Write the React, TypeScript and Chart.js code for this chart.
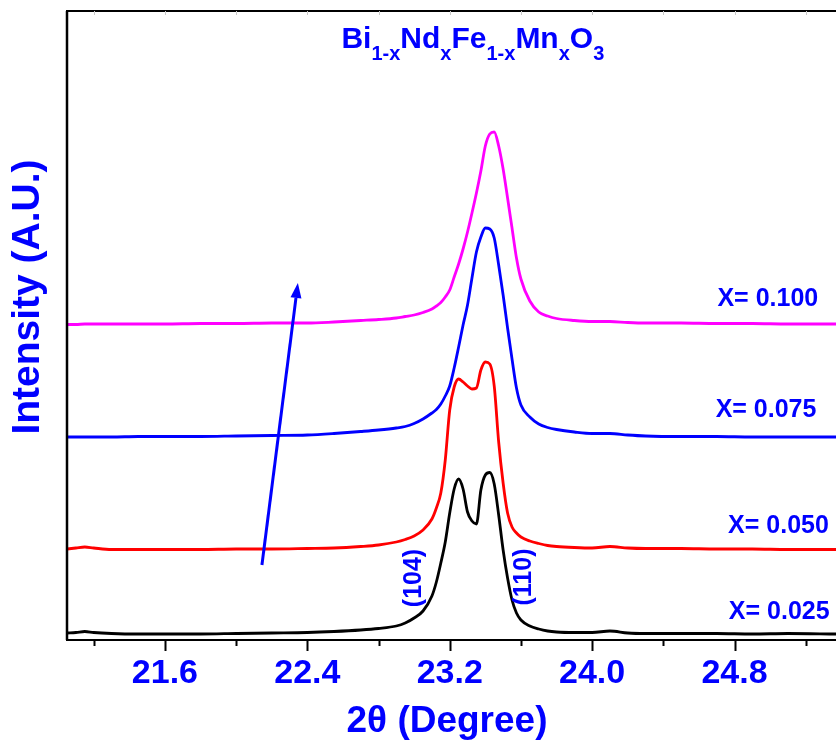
import { useEffect, useRef } from 'react';
import { Chart, registerables } from 'chart.js';

Chart.register(...registerables);

// 2θ sampling (degrees), shared by all four patterns
const twoTheta = [
  21.05, 21.1, 21.15, 21.2, 21.3, 21.45, 21.6, 21.8, 22.0, 22.2, 22.4, 22.55, 22.7, 22.8,
  22.9, 22.95, 23.0, 23.05, 23.1, 23.125, 23.15, 23.175, 23.2, 23.225, 23.25, 23.275, 23.3,
  23.325, 23.35, 23.375, 23.4, 23.425, 23.45, 23.475, 23.5, 23.525, 23.55, 23.575, 23.6,
  23.65, 23.7, 23.75, 23.8, 23.9, 24.0, 24.1, 24.2, 24.3, 24.5, 24.7, 24.9, 25.1, 25.37,
];

// Intensities (a.u.) of each composition, before vertical stacking
const intensityX025 = [
  7, 7.5, 8.5, 7.5, 6.5, 6, 6, 6, 6.5, 7, 7.5, 8.5, 10, 11.5, 14, 17, 22, 29, 44, 58, 77, 98,
  127, 151, 161, 151, 128, 119, 116, 150, 165, 167.5, 156, 125, 90, 62, 40, 27, 20, 14, 11, 9,
  8, 7.5, 7.5, 9, 7, 6.5, 6.5, 6.5, 6, 6.5, 6,
];
const intensityX050 = [
  6, 7, 8, 7, 5.5, 5.5, 5.5, 5.5, 6, 6, 6.5, 7, 8.5, 10, 13, 15.5, 19, 25, 36, 47, 62, 95,
  145, 168, 176, 173, 169, 166, 167, 185, 193, 191, 169, 113, 72, 42, 28, 22, 18, 14, 11.5, 9.5,
  8.5, 7.5, 7, 8.5, 7, 6.5, 6.5, 6, 6, 5.5, 5.5,
];
const intensityX075 = [
  6, 6, 6, 6, 6, 6.5, 6.5, 6.5, 7, 7.5, 8, 9.5, 11.5, 13, 15, 16.5, 19.5, 24, 30, 33.5, 39, 47,
  57, 75, 96, 118, 138, 165, 191, 206, 215, 214, 205, 178, 148, 115, 84, 55, 38, 26, 19, 15.5,
  13.5, 11, 9.5, 9.5, 8, 7, 6.5, 6.5, 6, 6, 6,
];
const intensityX100 = [
  5.5, 5.5, 6, 6, 6, 6, 6, 6.5, 6.5, 7, 7, 8, 9.5, 10.5, 12, 13.5, 15, 17.5, 21, 24, 27.5, 33,
  40, 53, 66, 81, 98, 117, 137, 159, 184, 196, 198, 184, 161, 132, 102, 72, 51, 29, 18, 14,
  11.5, 9.5, 8.5, 8.5, 7.5, 7, 7, 6.5, 6.5, 6, 6,
];

const patterns = [intensityX025, intensityX050, intensityX075, intensityX100];
const compositions = ['X= 0.025', 'X= 0.050', 'X= 0.075', 'X= 0.100'];
const stackOffsets = [0, 85, 197, 310];
const lineColors = ['#000000', '#ff0000', '#0000ff', '#ff00ff'];

// axis ticks (degrees)
const majorTicks = [21.6, 22.4, 23.2, 24.0, 24.8];
const minorTicks = [21.2, 22.0, 22.8, 23.6, 24.4, 25.2];

// annotations, in data coordinates
const compositionLabelAnchors = [
  { x: 25.334, y: 28 },
  { x: 25.33, y: 114 },
  { x: 25.26, y: 230 },
  { x: 25.27, y: 341 },
];
const peakLabels = [
  { text: '(104)', x: 23.0, y: 62 },
  { text: '(110)', x: 23.62, y: 63 },
];
const trendArrow = { from: { x: 22.145, y: 75 }, to: { x: 22.347, y: 357 } };
const formulaCenter = { x: 23.33, y: 592 };
const formulaParts: [string, boolean][] = [
  ['Bi', false], ['1-x', true], ['Nd', false], ['x', true], ['Fe', false], ['1-x', true],
  ['Mn', false], ['x', true], ['O', false], ['3', true],
];

const FONT = "'Liberation Sans', Arial, Helvetica, sans-serif";
const TEXT_BLUE = '#0000ff';

const decorations = {
  id: 'decorations',
  afterDraw(chart: any) {
    const { ctx, chartArea: a, scales } = chart;
    const xs = scales.x;
    const ys = scales.y;
    ctx.save();

    // frame: left, top, bottom
    ctx.strokeStyle = '#000';
    ctx.lineWidth = 2.5;
    ctx.beginPath();
    ctx.moveTo(a.left, a.top);
    ctx.lineTo(a.left, a.bottom);
    ctx.stroke();
    ctx.lineWidth = 2;
    ctx.beginPath();
    ctx.moveTo(a.left - 1, a.top);
    ctx.lineTo(a.right + 2, a.top);
    ctx.moveTo(a.left - 1, a.bottom);
    ctx.lineTo(a.right + 2, a.bottom);
    ctx.stroke();

    // bottom ticks (outward), faint top ticks (inward)
    ctx.lineWidth = 2;
    ctx.beginPath();
    majorTicks.forEach((v) => {
      const px = Math.round(xs.getPixelForValue(v)) + 0.5;
      ctx.moveTo(px, a.bottom);
      ctx.lineTo(px, a.bottom + 11);
    });
    minorTicks.forEach((v) => {
      const px = Math.round(xs.getPixelForValue(v)) + 0.5;
      ctx.moveTo(px, a.bottom);
      ctx.lineTo(px, a.bottom + 6);
    });
    ctx.stroke();
    ctx.strokeStyle = '#c8c8c8';
    ctx.lineWidth = 1;
    ctx.beginPath();
    [...majorTicks, ...minorTicks].forEach((v) => {
      const px = Math.round(xs.getPixelForValue(v)) + 0.5;
      ctx.moveTo(px, a.top);
      ctx.lineTo(px, a.top + 4);
    });
    ctx.stroke();

    ctx.fillStyle = TEXT_BLUE;

    // axis titles
    ctx.font = `bold 37px ${FONT}`;
    ctx.textAlign = 'center';
    ctx.textBaseline = 'middle';
    ctx.fillText('2\u03B8 (Degree)', 447, 722);

    ctx.save();
    ctx.translate(28, 297);
    ctx.rotate(-Math.PI / 2);
    ctx.font = `bold 39px ${FONT}`;
    ctx.fillText('Intensity (A.U.)', 0, 0);
    ctx.restore();

    // chemical formula with subscripts
    const mainFont = `bold 30px ${FONT}`;
    const subFont = `bold 20px ${FONT}`;
    let total = 0;
    formulaParts.forEach(([t, sub]) => {
      ctx.font = sub ? subFont : mainFont;
      total += ctx.measureText(t).width;
    });
    let fx = xs.getPixelForValue(formulaCenter.x) - total / 2;
    const baseY = ys.getPixelForValue(formulaCenter.y);
    ctx.textAlign = 'left';
    ctx.textBaseline = 'alphabetic';
    formulaParts.forEach(([t, sub]) => {
      ctx.font = sub ? subFont : mainFont;
      ctx.fillText(t, fx, sub ? baseY + 12 : baseY);
      fx += ctx.measureText(t).width;
    });

    // composition labels
    ctx.font = `bold 25px ${FONT}`;
    ctx.textAlign = 'right';
    ctx.textBaseline = 'middle';
    compositions.forEach((label, i) => {
      const p = compositionLabelAnchors[i];
      ctx.fillText(label, xs.getPixelForValue(p.x), ys.getPixelForValue(p.y));
    });

    // Miller indices, rotated
    ctx.font = `bold 25px ${FONT}`;
    ctx.textAlign = 'center';
    peakLabels.forEach((p) => {
      ctx.save();
      ctx.translate(xs.getPixelForValue(p.x), ys.getPixelForValue(p.y));
      ctx.rotate(-Math.PI / 2);
      ctx.fillText(p.text, 0, 0);
      ctx.restore();
    });

    // trend arrow
    const x0 = xs.getPixelForValue(trendArrow.from.x);
    const y0 = ys.getPixelForValue(trendArrow.from.y);
    const x1 = xs.getPixelForValue(trendArrow.to.x);
    const y1 = ys.getPixelForValue(trendArrow.to.y);
    const ang = Math.atan2(y1 - y0, x1 - x0);
    const headLen = 15;
    const headHalf = 5.5;
    const bx = x1 - headLen * Math.cos(ang);
    const by = y1 - headLen * Math.sin(ang);
    ctx.strokeStyle = TEXT_BLUE;
    ctx.lineWidth = 3;
    ctx.beginPath();
    ctx.moveTo(x0, y0);
    ctx.lineTo(bx, by);
    ctx.stroke();
    ctx.beginPath();
    ctx.moveTo(x1, y1);
    ctx.lineTo(bx + headHalf * Math.sin(ang), by - headHalf * Math.cos(ang));
    ctx.lineTo(bx - headHalf * Math.sin(ang), by + headHalf * Math.cos(ang));
    ctx.closePath();
    ctx.fill();

    ctx.restore();
  },
};

export default function App() {
  const canvasRef = useRef<HTMLCanvasElement | null>(null);

  useEffect(() => {
    const canvas = canvasRef.current;
    if (!canvas) return;
    const datasets = patterns.map((vals, i) => ({
      label: compositions[i],
      data: twoTheta.map((t, k) => ({ x: t, y: vals[k] + stackOffsets[i] })),
      borderColor: lineColors[i],
      backgroundColor: lineColors[i],
      borderWidth: 2.8,
      pointRadius: 0,
      cubicInterpolationMode: 'monotone' as const,
      fill: false,
    }));

    const chart = new Chart(canvas, {
      type: 'line',
      data: { datasets },
      options: {
        animation: false,
        responsive: false,
        devicePixelRatio: 1,
        layout: { padding: { left: 67, top: 11, right: 0, bottom: 0 } },
        plugins: {
          legend: { display: false },
          tooltip: { enabled: false },
          title: { display: false },
        },
        scales: {
          x: {
            type: 'linear',
            min: 21.05,
            max: 25.37,
            afterBuildTicks: (scale: any) => {
              scale.ticks = [...majorTicks, ...minorTicks]
                .sort((p, q) => p - q)
                .map((v) => ({ value: v }));
            },
            afterFit: (scale: any) => {
              scale.height = 102;
            },
            grid: { display: false, drawTicks: false },
            border: { display: false },
            ticks: {
              autoSkip: false,
              maxRotation: 0,
              padding: 13,
              color: TEXT_BLUE,
              font: { family: FONT, size: 34, weight: 'bold' },
              callback: (value: any) =>
                majorTicks.some((m) => Math.abs(m - Number(value)) < 1e-6)
                  ? Number(value).toFixed(1)
                  : '',
            },
          },
          y: {
            display: false,
            min: 0,
            max: 629,
          },
        },
      },
      plugins: [decorations],
    });
    return () => chart.destroy();
  }, []);

  return (
    <div style={{ position: 'fixed', left: 0, top: 0, width: 836, height: 742, background: '#fff' }}>
      <canvas ref={canvasRef} width={836} height={742} style={{ display: 'block' }} />
    </div>
  );
}
